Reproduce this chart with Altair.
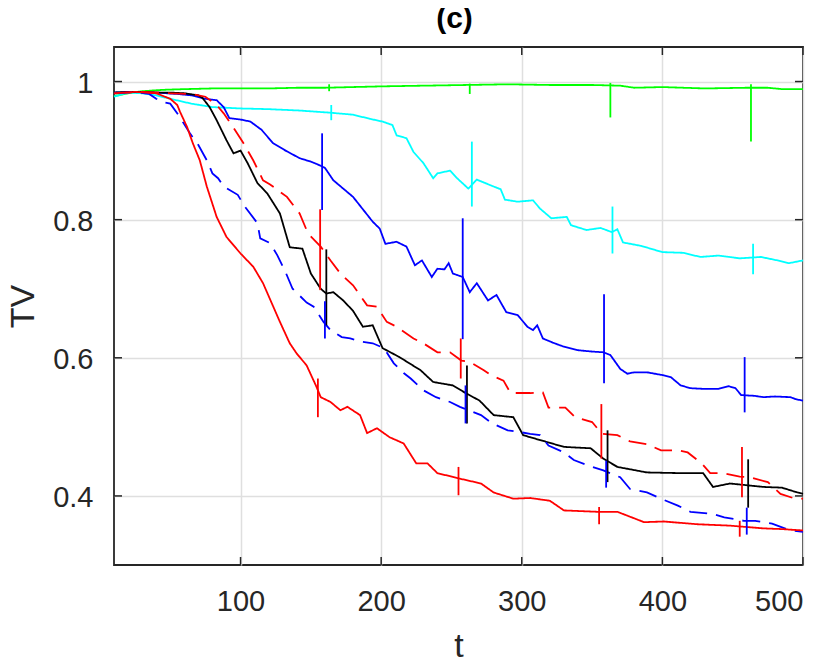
import altair as alt
import pandas as pd

# ---------------- data ----------------
green_t = [10, 20, 30, 45, 60, 80, 100, 120, 140, 160, 180, 200, 230, 260, 290, 320, 350, 370, 380, 400, 430, 460, 475, 485, 500]
green_v = [0.979, 0.983, 0.986, 0.988, 0.989, 0.990, 0.990, 0.990, 0.991, 0.991, 0.992, 0.993, 0.994, 0.995, 0.996, 0.995,
           0.995, 0.994, 0.991, 0.992, 0.990, 0.991, 0.991, 0.989, 0.989]

cyan_t = [10, 20, 30, 40, 50, 65, 80, 100, 120, 142, 163, 180, 192, 201, 208, 211, 218, 223, 230, 237, 240, 249, 254, 262,
          268, 280, 285, 288, 297, 308, 313, 321, 332, 335, 346, 356, 364, 368, 372, 385, 400, 415, 427, 440, 455, 470, 482,
          490, 500]
cyan_v = [0.978, 0.984, 0.983, 0.980, 0.975, 0.968, 0.963, 0.961, 0.960, 0.958, 0.955, 0.952, 0.946, 0.942, 0.937, 0.922,
          0.918, 0.898, 0.882, 0.860, 0.867, 0.871, 0.860, 0.845, 0.858, 0.848, 0.844, 0.829, 0.826, 0.828, 0.816, 0.802,
          0.804, 0.792, 0.785, 0.788, 0.782, 0.786, 0.767, 0.762, 0.753, 0.752, 0.746, 0.748, 0.744, 0.746, 0.741, 0.737,
          0.741]

blue_t = [10, 25, 40, 55, 65, 75, 83, 88, 92, 100, 107, 115, 123, 132, 142, 150, 156, 160, 166, 173, 180, 187, 194, 199,
          203, 211, 218, 224, 229, 236, 240, 245, 248, 251, 258, 263, 268, 276, 282, 289, 297, 304, 308, 311, 315, 322, 330,
          340, 350, 358, 363, 370, 375, 380, 389, 400, 406, 413, 420, 429, 440, 447, 452, 456, 465, 472, 480, 491, 495, 500]
blue_v = [0.984, 0.985, 0.984, 0.982, 0.980, 0.975, 0.973, 0.963, 0.947, 0.945, 0.942, 0.930, 0.911, 0.900, 0.889, 0.884,
          0.879, 0.875, 0.857, 0.845, 0.833, 0.815, 0.797, 0.787, 0.765, 0.768, 0.761, 0.734, 0.741, 0.717, 0.729, 0.728,
          0.737, 0.722, 0.717, 0.695, 0.708, 0.683, 0.691, 0.666, 0.662, 0.645, 0.640, 0.647, 0.628, 0.622, 0.616, 0.611,
          0.609, 0.608, 0.604, 0.584, 0.577, 0.579, 0.579, 0.575, 0.572, 0.560, 0.556, 0.555, 0.555, 0.559, 0.556, 0.546,
          0.545, 0.543, 0.544, 0.543, 0.540, 0.538]

black_t = [10, 20, 30, 40, 50, 60, 70, 73, 78, 83, 90, 95, 100, 105, 112, 119, 128, 135, 144, 150, 157, 161, 166, 173, 180,
           187, 194, 201, 213, 228, 237, 251, 260, 270, 280, 294, 301, 306, 318, 330, 349, 358, 368, 389, 413, 429, 436, 448,
           472, 485, 496, 500]
black_v = [0.984, 0.985, 0.985, 0.984, 0.984, 0.983, 0.980, 0.976, 0.963, 0.944, 0.915, 0.896, 0.900, 0.882, 0.853, 0.838,
           0.809, 0.760, 0.758, 0.722, 0.700, 0.693, 0.695, 0.683, 0.668, 0.645, 0.647, 0.614, 0.601, 0.582, 0.565, 0.560,
           0.549, 0.538, 0.517, 0.514, 0.488, 0.485, 0.478, 0.471, 0.469, 0.454, 0.442, 0.434, 0.433, 0.433, 0.413, 0.418,
           0.413, 0.412, 0.405, 0.403]

reddash_t = [10, 30, 50, 65, 75, 83, 88, 95, 102, 109, 116, 121, 133, 142, 148, 157, 164, 171, 180, 190, 197, 204, 211, 223,
             230, 240, 249, 257, 263, 273, 278, 287, 292, 301, 306, 315, 319, 331, 338, 350, 357, 368, 377, 389, 399, 411,
             418, 428, 434, 443, 455, 462, 475, 484, 493, 500]
reddash_v = [0.983, 0.985, 0.983, 0.982, 0.978, 0.966, 0.954, 0.933, 0.911, 0.886, 0.857, 0.851, 0.833, 0.809, 0.780, 0.761,
             0.741, 0.722, 0.705, 0.676, 0.674, 0.652, 0.645, 0.628, 0.621, 0.608, 0.608, 0.596, 0.594, 0.582, 0.575, 0.567,
             0.549, 0.549, 0.549, 0.550, 0.528, 0.528, 0.514, 0.507, 0.490, 0.488, 0.479, 0.475, 0.466, 0.466, 0.463, 0.447,
             0.433, 0.433, 0.428, 0.427, 0.420, 0.403, 0.397, 0.396]

bluedash_t = [10, 25, 35, 40, 45, 50, 56, 64, 70, 76, 80, 84, 88, 98, 103, 112, 114, 121, 126, 132, 137, 142, 147, 152, 159,
              164, 172, 178, 187, 194, 202, 209, 216, 221, 230, 239, 249, 256, 271, 279, 290, 300, 306, 313, 319, 330, 337,
              350, 358, 370, 377, 389, 399, 411, 420, 436, 444, 458, 466, 478, 491, 500]
bluedash_v = [0.983, 0.985, 0.982, 0.975, 0.970, 0.968, 0.951, 0.925, 0.908, 0.886, 0.867, 0.860, 0.848, 0.836, 0.819, 0.795,
              0.773, 0.766, 0.749, 0.724, 0.700, 0.690, 0.680, 0.674, 0.652, 0.640, 0.630, 0.628, 0.623, 0.621, 0.614, 0.592,
              0.578, 0.570, 0.553, 0.543, 0.536, 0.529, 0.517, 0.505, 0.495, 0.492, 0.490, 0.488, 0.473, 0.463, 0.452, 0.442,
              0.437, 0.427, 0.410, 0.405, 0.396, 0.386, 0.377, 0.374, 0.369, 0.364, 0.364, 0.360, 0.350, 0.348]

red_t = [10, 25, 40, 50, 55, 57, 62, 66, 71, 76, 83, 90, 100, 109, 116, 128, 135, 140, 147, 154, 157, 164, 171, 176, 185,
         190, 197, 206, 216, 225, 233, 240, 256, 271, 280, 294, 306, 320, 330, 354, 368, 387, 401, 425, 448, 472, 485, 500]
red_v = [0.983, 0.985, 0.983, 0.975, 0.966, 0.956, 0.934, 0.911, 0.886, 0.848, 0.804, 0.775, 0.751, 0.732, 0.708, 0.652,
         0.621, 0.606, 0.589, 0.558, 0.543, 0.536, 0.524, 0.529, 0.517, 0.491, 0.498, 0.485, 0.476, 0.447, 0.447, 0.433,
         0.425, 0.418, 0.405, 0.396, 0.397, 0.393, 0.379, 0.377, 0.377, 0.362, 0.363, 0.359, 0.357, 0.353, 0.352, 0.350]

# error bars: (t, low, high)
err_green = [(163, 0.986, 0.996), (263, 0.982, 0.997), (363, 0.948, 0.998), (463, 0.913, 0.996)]
err_cyan = [(164.5, 0.944, 0.966), (264.5, 0.819, 0.913), (364.5, 0.751, 0.819), (464.5, 0.721, 0.765)]
err_blue = [(158, 0.814, 0.925), (258, 0.627, 0.802), (358.5, 0.563, 0.692), (458.5, 0.521, 0.601)]
err_black = [(161, 0.647, 0.757), (261, 0.505, 0.589), (361, 0.420, 0.495), (461, 0.383, 0.453)]
err_reddash = [(156.6, 0.698, 0.815), (256.6, 0.570, 0.628), (356.6, 0.454, 0.533), (456.6, 0.398, 0.471)]
err_bluedash = [(160, 0.628, 0.682), (260, 0.505, 0.560), (360, 0.412, 0.451), (460, 0.344, 0.383)]
err_red = [(155, 0.514, 0.570), (255, 0.401, 0.442), (355, 0.359, 0.384), (455, 0.341, 0.364)]

x_ticks = [100, 200, 300, 400, 500]
y_ticks = [0.4, 0.6, 0.8, 1.0]
title_text = "(c)"

series_names = ["green", "cyan", "blue", "black", "reddash", "bluedash", "red"]
series_colors = ["#00ff00", "#00ffff", "#0000ff", "#000000", "#ff0000", "#0000ff", "#ff0000"]
series_dash = [[1, 0], [1, 0], [1, 0], [1, 0], [18, 9], [18, 9], [1, 0]]

# ---------------- build tables ----------------
lines = {
    "green": (green_t, green_v), "cyan": (cyan_t, cyan_v), "blue": (blue_t, blue_v),
    "black": (black_t, black_v), "reddash": (reddash_t, reddash_v),
    "bluedash": (bluedash_t, bluedash_v), "red": (red_t, red_v),
}
errs = {
    "green": err_green, "cyan": err_cyan, "blue": err_blue, "black": err_black,
    "reddash": err_reddash, "bluedash": err_bluedash, "red": err_red,
}
rows = []
for name, (ts, vs) in lines.items():
    for t, v in zip(ts, vs):
        rows.append({"series": name, "t": t, "v": v})
df = pd.DataFrame(rows)
erows = []
for name, lst in errs.items():
    for t, lo, hi in lst:
        erows.append({"series": name, "t": t, "lo": lo, "hi": hi})
edf = pd.DataFrame(erows)

W, H = 689, 518
FONT = "Liberation Sans"
INK = "#262626"

xscale = alt.Scale(domain=[10, 500], nice=False, zero=False)
yscale = alt.Scale(domain=[0.3, 1.05], nice=False, zero=False)
cscale = alt.Scale(domain=series_names, range=series_colors)
dscale = alt.Scale(domain=series_names, range=series_dash)

xaxis = alt.Axis(values=x_ticks, title="t", grid=True, ticks=False, tickSize=0, domain=False,
                 labelPadding=22, titleX=W / 2, titleY=91, titleBaseline="alphabetic", titleAlign="center")
yaxis = alt.Axis(values=y_ticks, title="TV", grid=True, ticks=False, tickSize=0, domain=False,
                 format="~g", labelPadding=21, labelBaseline="alphabetic", labelOffset=11,
                 titleX=-81, titleY=H / 2, titleAngle=270, titleBaseline="alphabetic", titleAlign="center")

base_lines = alt.Chart(df).mark_line(strokeWidth=1.8).encode(
    x=alt.X("t:Q", scale=xscale, axis=xaxis),
    y=alt.Y("v:Q", scale=yscale, axis=yaxis),
    color=alt.Color("series:N", scale=cscale, legend=None),
    strokeDash=alt.StrokeDash("series:N", scale=dscale, legend=None),
    detail="series:N",
)

bars = alt.Chart(edf).mark_rule(strokeWidth=1.8).encode(
    x=alt.X("t:Q", scale=xscale),
    y=alt.Y("lo:Q", scale=yscale),
    y2="hi:Q",
    color=alt.Color("series:N", scale=cscale, legend=None),
)

# inward tick marks on all four sides (MATLAB box style)
ytick_df = pd.DataFrame({"v": y_ticks})
xtick_df = pd.DataFrame({"t": x_ticks})
TK = 8
yt_left = alt.Chart(ytick_df).mark_rule(color=INK, strokeWidth=1.5).encode(
    y=alt.Y("v:Q", scale=yscale), x=alt.value(0), x2=alt.value(TK))
yt_right = alt.Chart(ytick_df).mark_rule(color=INK, strokeWidth=1.5).encode(
    y=alt.Y("v:Q", scale=yscale), x=alt.value(W - TK), x2=alt.value(W))
xt_bottom = alt.Chart(xtick_df).mark_rule(color=INK, strokeWidth=1.5).encode(
    x=alt.X("t:Q", scale=xscale), y=alt.value(H), y2=alt.value(H - TK))
xt_top = alt.Chart(xtick_df).mark_rule(color=INK, strokeWidth=1.5).encode(
    x=alt.X("t:Q", scale=xscale), y=alt.value(0), y2=alt.value(TK))

title_mark = alt.Chart(pd.DataFrame({"label": [title_text]})).mark_text(
    font=FONT, fontSize=30, fontWeight="bold", color="#000000", align="center", baseline="alphabetic"
).encode(x=alt.value(W / 2 - 4), y=alt.value(-19), text="label:N")

chart = alt.layer(base_lines, bars, yt_left, yt_right, xt_bottom, xt_top, title_mark).properties(
    width=W, height=H,
    autosize=alt.AutoSizeParams(type="none"),
    padding={"left": 106, "top": 39, "right": 20, "bottom": 95},
    background="white",
).configure_view(
    stroke=INK, strokeWidth=1.8
).configure_axis(
    labelFont=FONT, labelFontSize=29, labelColor=INK,
    titleFont=FONT, titleFontSize=34, titleFontWeight="normal", titleColor=INK,
    gridColor="#dfdfdf", gridWidth=1.5,
)

chart.save("out.html", embed_options={"renderer": "svg", "actions": False})
